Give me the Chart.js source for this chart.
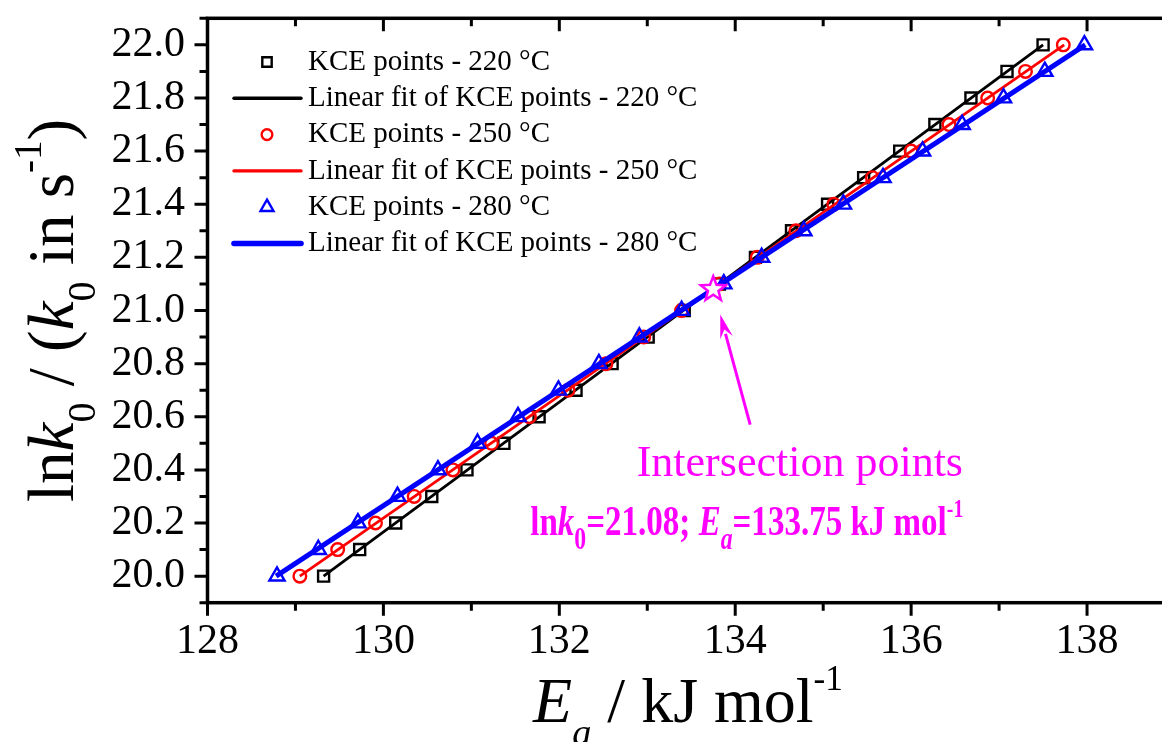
<!DOCTYPE html>
<html><head><meta charset="utf-8">
<script src="https://cdn.jsdelivr.net/npm/chart.js@4/dist/chart.umd.min.js"></script>
<style>
html,body{margin:0;padding:0;overflow:hidden;background:#fff;width:1162px;height:742px}
#wrap{position:relative;width:1190px;height:742px}
canvas{display:block}
</style>
</head><body><div id="wrap"><canvas id="c" width="1190" height="742"></canvas></div>
<script>
// ---- data ----
const lnk0 = [20.0,20.1,20.2,20.3,20.4,20.5,20.6,20.7,20.8,20.9,21.0,21.1,21.2,21.3,21.4,21.5,21.6,21.7,21.8,21.9,22.0];
const ea220 = [129.32,129.73,130.14,130.55,130.95,131.37,131.77,132.19,132.60,133.01,133.42,133.82,134.23,134.64,135.05,135.46,135.87,136.27,136.68,137.09,137.50];
const ea250 = [129.05,129.48,129.91,130.35,130.79,131.23,131.66,132.10,132.53,132.96,133.39,133.82,134.25,134.69,135.12,135.56,136.00,136.43,136.87,137.30,137.73];
const ea280 = [128.79,129.26,129.71,130.16,130.62,131.07,131.53,131.99,132.45,132.91,133.39,133.87,134.30,134.78,135.23,135.68,136.13,136.58,137.05,137.52,137.97];
const fitLnk = [20.0, 22.0];
const fit220 = [129.32, 137.50];
const fit250 = [129.05, 137.74];
const fit280 = [128.78, 137.98];
const interEa = [133.75];
const interLnk = [21.08];
const seriesLabels = [
  'KCE points - 220 °C','Linear fit of KCE points - 220 °C',
  'KCE points - 250 °C','Linear fit of KCE points - 250 °C',
  'KCE points - 280 °C','Linear fit of KCE points - 280 °C'];
const xTickValues = [128,130,132,134,136,138];
const xMinorValues = [129,131,133,135,137,139];
const yTickValues = [20.0,20.2,20.4,20.6,20.8,21.0,21.2,21.4,21.6,21.8,22.0];
const yMinorValues = [19.9,20.1,20.3,20.5,20.7,20.9,21.1,21.3,21.5,21.7,21.9,22.1];
// annotation anchors in data units
const arrowTail = [134.17, 20.57];
const arrowTip = [133.83, 20.985];
const annoTitleAt = [132.88, 20.377];
const annoValueAt = [131.67, 20.155];

const FONT = '"Liberation Serif","Times New Roman",Times,serif';
const MAG = '#ff00ff';
function xy(xs, ys){ return xs.map((x,i)=>({x:x, y:ys[i]})); }

function drawRich(ctx, segs, x, y, base){
  let cx = x;
  for (const s of segs){
    const size = base*(s.scale||1);
    ctx.font = (s.italic?'italic ':'') + (s.bold?'bold ':'') + size + 'px ' + FONT;
    ctx.fillText(s.t, cx, y + (s.dy||0)*base);
    cx += ctx.measureText(s.t).width;
  }
  return cx - x;
}
function richWidth(ctx, segs, base){
  let w = 0;
  for (const s of segs){
    const size = base*(s.scale||1);
    ctx.font = (s.italic?'italic ':'') + (s.bold?'bold ':'') + size + 'px ' + FONT;
    w += ctx.measureText(s.t).width;
  }
  return w;
}

function drawMarker(ctx, style, x, y, r){
  ctx.beginPath();
  if (style === 'rect'){
    const s = r*Math.SQRT1_2;
    ctx.rect(x-s, y-s, 2*s, 2*s);
  } else if (style === 'circle'){
    ctx.arc(x, y, r, 0, Math.PI*2);
  } else if (style === 'triangle'){
    let a = 0;
    ctx.moveTo(x + Math.sin(a)*r, y - Math.cos(a)*r);
    a += 2*Math.PI/3; ctx.lineTo(x + Math.sin(a)*r, y - Math.cos(a)*r);
    a += 2*Math.PI/3; ctx.lineTo(x + Math.sin(a)*r, y - Math.cos(a)*r);
    ctx.closePath();
  }
  ctx.stroke();
}

const decor = {
  id: 'decor',
  afterDraw(chart){
    const ctx = chart.ctx;
    const a = chart.chartArea;
    const xs = chart.scales.x, ys = chart.scales.y;
    ctx.save();
    // frame
    ctx.strokeStyle = '#000';
    ctx.lineWidth = 3.5;
    ctx.lineCap = 'butt';
    ctx.strokeRect(a.left, a.top, a.right - a.left, a.bottom - a.top);
    // ticks
    ctx.lineWidth = 3;
    const tick = (vals, len) => {
      for (const v of vals){
        const px = xs.getPixelForValue(v);
        ctx.beginPath();
        ctx.moveTo(px, a.bottom); ctx.lineTo(px, a.bottom + len);
        ctx.moveTo(px, a.top); ctx.lineTo(px, a.top + len);
        ctx.stroke();
      }
    };
    const ytick = (vals, len) => {
      for (const v of vals){
        const py = ys.getPixelForValue(v);
        ctx.beginPath();
        ctx.moveTo(a.left - len, py); ctx.lineTo(a.left, py);
        ctx.moveTo(a.right - len, py); ctx.lineTo(a.right, py);
        ctx.stroke();
      }
    };
    tick(xTickValues, 13); tick(xMinorValues, 8);
    ytick(yTickValues, 13); ytick(yMinorValues, 8);

    // legend
    const ds = chart.data.datasets;
    ctx.textAlign = 'left';
    ctx.textBaseline = 'middle';
    for (let i = 0; i < ds.length; i++){
      const d = ds[i];
      const yy = 62 + i*36.3;
      ctx.strokeStyle = d.borderColor;
      if (d.showLine){
        ctx.lineWidth = d.borderWidth + 0.6;
        ctx.lineCap = 'round';
        ctx.beginPath(); ctx.moveTo(234, yy); ctx.lineTo(301, yy); ctx.stroke();
        ctx.lineCap = 'butt';
      } else {
        ctx.lineWidth = d.pointBorderWidth;
        drawMarker(ctx, d.pointStyle, 267, yy, d.pointRadius*0.85);
      }
      ctx.fillStyle = '#000';
      ctx.font = '29px ' + FONT;
      ctx.fillText(d.label, 308, yy);
    }

    // star at the intersection
    const sx = xs.getPixelForValue(interEa[0]), sy = ys.getPixelForValue(interLnk[0]);
    ctx.beginPath();
    for (let k = 0; k < 10; k++){
      const r = k % 2 === 0 ? 13 : 5.5;
      const ang = -Math.PI/2 + k*Math.PI/5;
      const px = sx + r*Math.cos(ang), py = sy + r*Math.sin(ang);
      if (k === 0) ctx.moveTo(px, py); else ctx.lineTo(px, py);
    }
    ctx.closePath();
    ctx.fillStyle = '#fff'; ctx.fill();
    ctx.strokeStyle = MAG; ctx.lineWidth = 2.5; ctx.lineJoin = 'miter'; ctx.stroke();

    // arrow
    const tx = xs.getPixelForValue(arrowTail[0]), ty = ys.getPixelForValue(arrowTail[1]);
    const hx = xs.getPixelForValue(arrowTip[0]), hy = ys.getPixelForValue(arrowTip[1]);
    const ang = Math.atan2(hy - ty, hx - tx);
    const hl = 24, hw = 6.5;
    const bx = hx - hl*Math.cos(ang), by = hy - hl*Math.sin(ang);
    ctx.strokeStyle = MAG; ctx.lineWidth = 3;
    ctx.beginPath(); ctx.moveTo(tx, ty); ctx.lineTo(bx + 4*Math.cos(ang), by + 4*Math.sin(ang)); ctx.stroke();
    ctx.fillStyle = MAG;
    ctx.beginPath();
    ctx.moveTo(hx, hy);
    ctx.lineTo(bx + hw*Math.sin(ang), by - hw*Math.cos(ang));
    ctx.lineTo(bx + 0.35*hl*Math.cos(ang), by + 0.35*hl*Math.sin(ang));
    ctx.lineTo(bx - hw*Math.sin(ang), by + hw*Math.cos(ang));
    ctx.closePath(); ctx.fill();

    // annotation texts
    ctx.fillStyle = MAG;
    ctx.textBaseline = 'alphabetic';
    ctx.textAlign = 'left';
    ctx.font = '44px ' + FONT;
    ctx.fillText('Intersection points', xs.getPixelForValue(annoTitleAt[0]), ys.getPixelForValue(annoTitleAt[1]));
    const valSegs = [
      {t:'ln', bold:true}, {t:'k', bold:true, italic:true}, {t:'0', bold:true, scale:0.72, dy:0.32},
      {t:'=21.08; ', bold:true}, {t:'E', bold:true, italic:true}, {t:'a', bold:true, italic:true, scale:0.72, dy:0.32},
      {t:'=133.75 kJ mol', bold:true}, {t:'-1', bold:true, scale:0.6, dy:-0.42}
    ];
    const vb = 43;
    const vw = richWidth(ctx, valSegs, vb);
    ctx.save();
    ctx.translate(xs.getPixelForValue(annoValueAt[0]), ys.getPixelForValue(annoValueAt[1]));
    ctx.scale(433/vw, 1);
    drawRich(ctx, valSegs, 0, 0, vb);
    ctx.restore();

    // axis titles
    ctx.fillStyle = '#000';
    const xt = [
      {t:'E', italic:true}, {t:'a', italic:true, scale:0.6, dy:0.36},
      {t:' / kJ mol'}, {t:'-1', scale:0.55, dy:-0.5}
    ];
    const xw = richWidth(ctx, xt, 64);
    drawRich(ctx, xt, 688 - xw/2, 722, 64);

    const yt = [
      {t:'ln'}, {t:'k', italic:true}, {t:'0', scale:0.62, dy:0.34},
      {t:' / ('}, {t:'k', italic:true}, {t:'0', scale:0.62, dy:0.34},
      {t:' in s'}, {t:'-1', scale:0.6, dy:-0.5}, {t:')'}
    ];
    ctx.save();
    ctx.translate(73, 502);
    ctx.rotate(-Math.PI/2);
    drawRich(ctx, yt, 0, 0, 65);
    ctx.restore();

    ctx.restore();
  }
};

const chart = new Chart(document.getElementById('c'), {
  type: 'scatter',
  data: { datasets: [
    {label: seriesLabels[0], data: xy(ea220, lnk0), showLine:false, pointStyle:'rect', pointRadius:7.8, pointBorderWidth:2.4, borderColor:'#000000', backgroundColor:'rgba(0,0,0,0)', order:4},
    {label: seriesLabels[1], data: xy(fit220, fitLnk), showLine:true, borderColor:'#000000', borderWidth:2.8, pointRadius:0, order:5},
    {label: seriesLabels[2], data: xy(ea250, lnk0), showLine:false, pointStyle:'circle', pointRadius:6.3, pointBorderWidth:2.4, borderColor:'#ff0000', backgroundColor:'rgba(0,0,0,0)', order:2},
    {label: seriesLabels[3], data: xy(fit250, fitLnk), showLine:true, borderColor:'#ff0000', borderWidth:2.8, pointRadius:0, order:3},
    {label: seriesLabels[4], data: xy(ea280, lnk0), showLine:false, pointStyle:'triangle', pointRadius:8.8, pointBorderWidth:2.4, borderColor:'#0000ff', backgroundColor:'rgba(0,0,0,0)', order:0},
    {label: seriesLabels[5], data: xy(fit280, fitLnk), showLine:true, borderColor:'#0000ff', borderWidth:5, pointRadius:0, order:1}
  ]},
  options: {
    responsive: false,
    animation: false,
    devicePixelRatio: 1,
    events: [],
    plugins: { legend: {display:false}, tooltip: {enabled:false} },
    layout: { padding: {top:18.3, right:15, left:0, bottom:0} },
    scales: {
      x: {
        type:'linear', min:128, max:139, position:'bottom',
        afterBuildTicks: s => { s.ticks = xTickValues.map(v => ({value:v})); },
        afterFit: s => { s.height = 139.3; s.paddingLeft = 0; s.paddingRight = 0; },
        grid: {display:false, drawTicks:false}, border: {display:false},
        ticks: {font:{family:FONT, size:42}, color:'#000', padding:14, maxRotation:0, callback: v => String(v)}
      },
      y: {
        type:'linear', min:19.9, max:22.1, position:'left',
        afterBuildTicks: s => { s.ticks = yTickValues.map(v => ({value:v})); },
        afterFit: s => { s.width = 207.5; s.paddingTop = 0; s.paddingBottom = 0; },
        grid: {display:false, drawTicks:false}, border: {display:false},
        ticks: {font:{family:FONT, size:42}, color:'#000', padding:22.5, callback: v => Number(v).toFixed(1)}
      }
    }
  },
  plugins: [decor]
});
</script>
</body></html>
